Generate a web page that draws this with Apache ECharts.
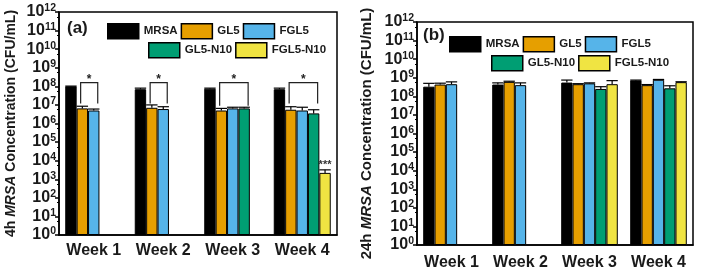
<!DOCTYPE html>
<html><head><meta charset="utf-8">
<script src="https://cdn.jsdelivr.net/npm/echarts@6/dist/echarts.min.js"></script>
<style>html,body{margin:0;padding:0;background:#fff}#c{width:702px;height:271px}</style>
</head><body><div id="c"></div>
<script>
// ---------- data ----------
const categories = ['Week 1', 'Week 2', 'Week 3', 'Week 4'];
const groups = ['MRSA', 'GL5', 'FGL5', 'GL5-N10', 'FGL5-N10'];
const yExponents = [0,1,2,3,4,5,6,7,8,9,10,11,12];

// 4h MRSA concentration (CFU/mL)
const h4_MRSA    = [1.0e8, 7.0e7, 7.5e7, 7.0e7];
const h4_GL5     = [6.5e6, 7.0e6, 5.0e6, 5.5e6];
const h4_FGL5    = [5.0e6, 6.0e6, 6.5e6, 5.0e6];
const h4_GL5N10  = [null, null, 6.5e6, 3.5e6];
const h4_FGL5N10 = [null, null, null, 2.2e3];
const h4_err_MRSA    = [3e6, 1.0e7, 5e6, 1.0e7];
const h4_err_GL5     = [2e6, 3e6, 1.5e6, 2.5e6];
const h4_err_FGL5    = [1e6, 2e6, 1e6, 2.5e6];
const h4_err_GL5N10  = [null, null, 1e6, 2e6];
const h4_err_FGL5N10 = [null, null, null, 1e3];

// 24h MRSA concentration (CFU/mL)
const h24_MRSA    = [3.3e8, 4.3e8, 5.5e8, 7.2e8];
const h24_GL5     = [4.3e8, 6.0e8, 4.5e8, 4.0e8];
const h24_FGL5    = [4.5e8, 4.0e8, 5.0e8, 7.8e8];
const h24_GL5N10  = [null, null, 2.5e8, 2.7e8];
const h24_FGL5N10 = [null, null, 4.5e8, 5.8e8];
const h24_err_MRSA    = [1.7e8, 1.0e8, 2.0e8, 0.3e8];
const h24_err_GL5     = [0.8e8, 0.5e8, 0.3e8, 0.3e8];
const h24_err_FGL5    = [1.5e8, 1.3e8, 0.3e8, 0.3e8];
const h24_err_GL5N10  = [null, null, 0.8e8, 1.0e8];
const h24_err_FGL5N10 = [null, null, 2.5e8, 0.3e8];

// significance brackets (4h): [category, fromGroup, toGroup, topValue, armBottomValue]
const h4_brackets = [[0,1,2,1.6e8,1.2e7],[1,1,2,1.6e8,1.2e7],[2,1,3,1.6e8,9e6],[3,1,3,1.6e8,1.2e7]];
const h4_bracketLabels = ['*','*','*','*'];
// single-bar marks: [category, group, value]
const h4_marks = [[3,4,6e3]];
const h4_markLabels = ['***'];

// ---------- style ----------
const colors = ['#000000', '#E69F00', '#56B4E9', '#009E73', '#F0E442'];
const FONT = '"Liberation Sans", Arial, sans-serif';
const TXT = '#1a1a1a';
const GAP = 0.18;

const h4Vals = [h4_MRSA, h4_GL5, h4_FGL5, h4_GL5N10, h4_FGL5N10];
const h4Errs = [h4_err_MRSA, h4_err_GL5, h4_err_FGL5, h4_err_GL5N10, h4_err_FGL5N10];
const h24Vals = [h24_MRSA, h24_GL5, h24_FGL5, h24_GL5N10, h24_FGL5N10];
const h24Errs = [h24_err_MRSA, h24_err_GL5, h24_err_FGL5, h24_err_GL5N10, h24_err_FGL5N10];

function slotInfo(api) {
  const band = api.size([1, 1], [0, 10])[0];
  return band * (1 - GAP) / groups.length;
}

function errRender(params, api) {
  const cat = api.value(0), v = api.value(1), e = api.value(2), g = api.value(3);
  const slotW = slotInfo(api);
  const base = api.coord([cat, v]);
  const top = api.coord([cat, v + e]);
  const x = base[0] + (g - (groups.length - 1) / 2) * slotW;
  const hw = slotW * 0.5;
  const ls = {stroke: '#000', lineWidth: 1.2};
  return {type: 'group', children: [
    {type: 'line', shape: {x1: x, y1: base[1], x2: x, y2: top[1]}, style: ls},
    {type: 'line', shape: {x1: x - hw, y1: top[1], x2: x + hw, y2: top[1]}, style: ls}
  ]};
}

function bracketRender(params, api) {
  const cat = api.value(0), g1 = api.value(1), g2 = api.value(2), tv = api.value(3), av = api.value(4);
  const slotW = slotInfo(api);
  const c = api.coord([cat, tv]);
  const a = api.coord([cat, av]);
  const mid = (groups.length - 1) / 2;
  const x1 = c[0] + (g1 - mid - 0.15) * slotW;
  const x2 = c[0] + (g2 - mid + 0.35) * slotW;
  const ls = {stroke: '#222', lineWidth: 1.2, fill: null};
  return {type: 'group', children: [
    {type: 'polyline', shape: {points: [[x1, a[1]], [x1, c[1]], [x2, c[1]], [x2, a[1]]]}, style: ls},
    {type: 'text', x: (x1 + x2) / 2, y: c[1] + 3, style: {text: h4_bracketLabels[params.dataIndex], fill: '#222', font: 'bold 12px ' + FONT, align: 'center', verticalAlign: 'bottom'}}
  ]};
}

function markRender(params, api) {
  const cat = api.value(0), g = api.value(1), v = api.value(2);
  const slotW = slotInfo(api);
  const c = api.coord([cat, v]);
  const x = c[0] + (g - (groups.length - 1) / 2) * slotW;
  return {type: 'text', x: x, y: c[1], style: {text: h4_markLabels[params.dataIndex], fill: '#333', font: 'bold 11px ' + FONT, align: 'center', verticalAlign: 'middle'}};
}

function yLabel(value) {
  const ex = yExponents[Math.round(Math.log10(value))];
  return '{b|10}{s|' + ex + '}';
}

function mkX(gi, margin) {
  return {type: 'category', gridIndex: gi, data: categories,
    axisLine: {lineStyle: {color: '#000', width: 1.5}},
    axisTick: {alignWithLabel: true, length: 5, lineStyle: {color: '#000', width: 1.5}},
    axisLabel: {interval: 0, fontSize: 16, fontWeight: 'bold', color: TXT, fontFamily: FONT, margin: margin},
    splitLine: {show: false}};
}
function mkY(gi, name, nameSize, nameGap) {
  return {type: 'log', logBase: 10, gridIndex: gi, min: 1, max: 1e12, interval: 1,
    axisLine: {show: true, lineStyle: {color: '#000', width: 1.5}},
    axisTick: {show: true, length: 4, lineStyle: {color: '#000', width: 1.5}},
    minorTick: {show: true, splitNumber: 2, length: 2, lineStyle: {color: '#000', width: 1}},
    splitLine: {show: false},
    axisLabel: {formatter: yLabel, margin: 3, color: TXT,
      rich: {b: {fontSize: 16, fontWeight: 'bold', fontFamily: FONT, color: TXT, lineHeight: 18},
             s: {fontSize: 10.5, fontWeight: 'bold', fontFamily: FONT, color: TXT, verticalAlign: 'top'}}},
    name: name, nameLocation: 'middle', nameGap: nameGap,
    nameTextStyle: {fontSize: nameSize, fontWeight: 'bold', fontFamily: FONT, color: TXT,
      rich: {i: {fontSize: nameSize, fontWeight: 'bold', fontStyle: 'italic', fontFamily: FONT, color: TXT}}}};
}
function mkLegend(names, left, top) {
  return {data: names, left: left, top: top, orient: 'horizontal', padding: 0,
    itemWidth: 31, itemHeight: 15, itemGap: 3, icon: 'rect', selectedMode: false,
    itemStyle: {borderColor: '#000', borderWidth: 1.5},
    textStyle: {fontSize: 11.5, fontWeight: 'bold', color: TXT, fontFamily: FONT}};
}

const series = [];
[[h4Vals, h4Errs, 0], [h24Vals, h24Errs, 1]].forEach(([vals, errs, gi]) => {
  groups.forEach((g, k) => {
    series.push({type: 'bar', name: g, xAxisIndex: gi, yAxisIndex: gi, data: vals[k],
      barGap: '0%', barCategoryGap: (GAP * 100) + '%',
      itemStyle: {color: colors[k], borderColor: '#000', borderWidth: 1}});
  });
  const ed = [];
  groups.forEach((g, k) => {
    vals[k].forEach((v, c) => { if (v != null && errs[k][c] != null) ed.push([c, v, errs[k][c], k]); });
  });
  series.push({type: 'custom', name: 'err' + gi, xAxisIndex: gi, yAxisIndex: gi, data: ed,
    renderItem: errRender, z: 5, silent: true, clip: false});
});
series.push({type: 'custom', name: 'brk', xAxisIndex: 0, yAxisIndex: 0, data: h4_brackets,
  renderItem: bracketRender, z: 6, silent: true, clip: false});
series.push({type: 'custom', name: 'mk', xAxisIndex: 0, yAxisIndex: 0, data: h4_marks,
  renderItem: markRender, z: 6, silent: true, clip: false});

const chart = echarts.init(document.getElementById('c'), null, {renderer: 'canvas'});
chart.setOption({
  backgroundColor: '#fff',
  animation: false,
  grid: [
    {left: 59, top: 12, width: 278, height: 223, show: true, borderColor: '#000', borderWidth: 1.5, backgroundColor: 'transparent'},
    {left: 417, top: 22, width: 276, height: 223, show: true, borderColor: '#000', borderWidth: 1.5, backgroundColor: 'transparent'}
  ],
  xAxis: [mkX(0, 8), mkX(1, 10)],
  yAxis: [mkY(0, '4h {i|MRSA} Concentration (CFU/mL)', 14, 41), mkY(1, '24h {i|MRSA} Concentration (CFU/mL)', 15, 43)],
  legend: [
    mkLegend(['MRSA', 'GL5', 'FGL5'], 107, 23),
    mkLegend(['GL5-N10', 'FGL5-N10'], 148, 42),
    mkLegend(['MRSA', 'GL5', 'FGL5'], 449, 36),
    mkLegend(['GL5-N10', 'FGL5-N10'], 491, 55)
  ],
  graphic: [
    {type: 'text', left: 67, top: 20, style: {text: '(a)', font: 'bold 17px ' + FONT, fill: TXT}},
    {type: 'text', left: 423, top: 27, style: {text: '(b)', font: 'bold 17px ' + FONT, fill: TXT}}
  ],
  series: series
});
</script></body></html>
